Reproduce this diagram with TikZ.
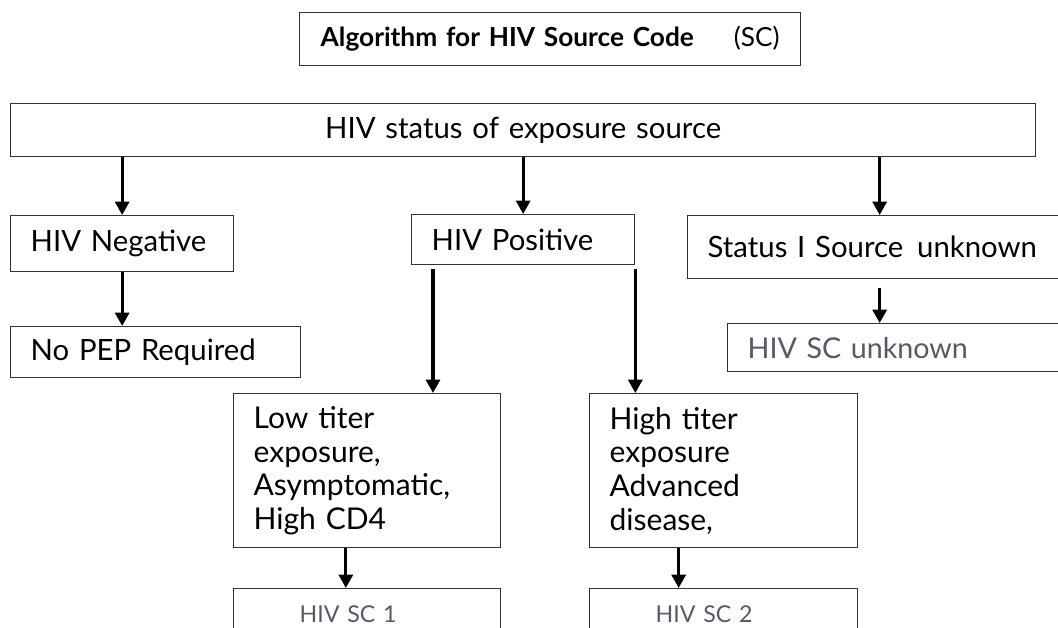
\documentclass[tikz,border=0pt]{standalone}
\usepackage{fontspec}
\setmainfont{Lato}
\usetikzlibrary{arrows.meta}

\definecolor{scgray}{RGB}{92,86,102}

\tikzset{
  box/.style={draw=black!80, line width=1pt, anchor=north west, inner xsep=15pt,
    align=left, font=\fontsize{22}{25.5}\selectfont},
  scbox/.style={box, inner xsep=49.5pt, inner ysep=4pt, text height=21.5pt,
    text depth=40pt, text=scgray, font=\fontsize{17.4}{21}\selectfont},
  arr/.style={-{Triangle[length=10pt,width=10.5pt]}, line width=2.3pt},
}

\begin{document}
\begin{tikzpicture}[x=0.75pt,y=-0.75pt]
  \useasboundingbox (0,0) rectangle (1058,628);
  \clip (0,0) rectangle (1058,628);

  % heading
  \node[box, align=center, text width=345.75pt, minimum height=39.75pt,
    font=\fontsize{19.7}{23}\selectfont] (title) at (299,12)
    {\textbf{Algorithm for HIV Source Code}\hspace{30pt}(SC)};

  % first level
  \node[box, align=center, text width=738.75pt, minimum height=39.75pt] (status) at (10,103)
    {HIV status of exposure source};
  \node[box, text width=137.25pt, minimum height=42pt] (neg) at (10,215) {HIV Negative};
  \node[box, text width=137.25pt, minimum height=37.5pt] (pos) at (411,214) {HIV Positive};
  \node[box, text width=258pt, minimum height=47.25pt] (unk) at (687,215)
    {Status I Source\hspace{3pt} unknown};

  % outcomes
  \node[box, text width=187.5pt, minimum height=38.25pt] (nopep) at (10,326) {No PEP Required};
  \node[box, text width=234.75pt, minimum height=36pt, text=scgray,
    font=\fontsize{21.5}{25}\selectfont] (scunk) at (727,323) {HIV SC unknown};
  \node[box, text width=170.25pt, minimum height=115.5pt,
    font=\fontsize{22.5}{25.3}\selectfont] (low) at (233,393)
    {Low titer\\exposure,\\Asymptomatic,\\High CD4};
  \node[box, text width=171pt, minimum height=115.5pt,
    font=\fontsize{22.5}{25.3}\selectfont] (high) at (589,393)
    {High titer\\exposure\\Advanced\\disease,};
  \node[scbox, text width=101.25pt] (sc1) at (233,588) {HIV SC 1};
  \node[scbox, text width=102pt] (sc2) at (589,588) {HIV SC 2};

  % connectors
  \draw[arr] (status.south -| neg.north) -- (neg.north);
  \draw[arr] (status.south -| pos.north) -- (pos.north);
  \draw[arr] (status.south -| unk.north) -- (unk.north);
  \draw[arr] (neg.south) -- (neg.south |- nopep.north);
  \draw[arr] ([yshift=-6.75pt]unk.south) -- (unk.south |- scunk.north);
  \draw[arr] ([xshift=16.5pt,yshift=-3pt]pos.south west) -- ([xshift=16.5pt]pos.south west |- low.north);
  \draw[arr] ([yshift=-3pt]pos.south east) -- (pos.south east |- high.north);
  \draw[arr] ([xshift=-16pt]low.south) -- ([xshift=-16pt]low.south |- sc1.north);
  \draw[arr] ([xshift=-33.75pt]high.south) -- ([xshift=-33.75pt]high.south |- sc2.north);
\end{tikzpicture}
\end{document}
